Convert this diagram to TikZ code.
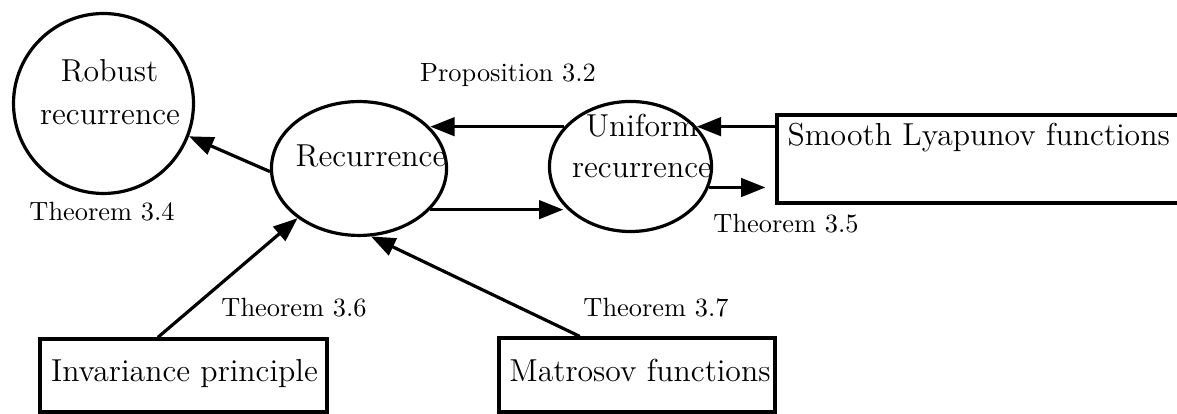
\documentclass[tikz,border=0pt]{standalone}
\usetikzlibrary{arrows.meta,shapes.geometric}
\tikzset{
  shapeline/.style={draw, line width=1.25pt, inner sep=0pt},
  bubble/.style={shapeline, ellipse},
  boxnode/.style={shapeline, rectangle},
  bigtext/.style={font=\fontsize{12.4pt}{15pt}\selectfont, inner sep=0pt, anchor=base},
  lbl/.style={font=\fontsize{10.3pt}{12pt}\selectfont, inner sep=0pt, anchor=base},
  arr/.style={line width=1.25pt, -{Triangle[length=9.5pt,width=7.2pt]}},
}
\begin{document}
\begin{tikzpicture}[x=0.390625pt, y=-0.390625pt]
\useasboundingbox (0,0) rectangle (1177,414);
% shapes
\node[shapeline, circle, minimum size=70.3pt] (Rob) at (103.5,103.5) {};
\node[bubble, minimum width=68.4pt, minimum height=52.3pt] (Rec) at (359,168.5) {};
\node[bubble, minimum width=63.3pt, minimum height=50.8pt] (U) at (630.5,166.5) {};
\node[boxnode, minimum width=161.3pt, minimum height=34.4pt] (S) at (983.5,159) {};
\node[boxnode, minimum width=112.1pt, minimum height=28.5pt] (I) at (183.5,375.5) {};
\node[boxnode, minimum width=107.8pt, minimum height=28.9pt] (M) at (637,375) {};
% texts
\node[bigtext] (RobA) at (109.5,82) {Robust};
\node[bigtext] (RobB) at (110,125) {recurrence};
\node[bigtext] (RecT) at (371,167) {Recurrence};
\node[bigtext] (UA) at (642,137) {Uniform};
\node[bigtext] (UB) at (642,178) {recurrence};
\node[bigtext, anchor=base west] (ST) at (787,146) {Smooth Lyapunov functions};
\node[bigtext] (IT) at (184.5,382) {Invariance principle};
\node[bigtext] (MT) at (640,382) {Matrosov functions};
% labels
\node[lbl] (P32) at (508,82) {Proposition 3.2};
\node[lbl] (T34) at (102,221) {Theorem 3.4};
\node[lbl] (T35) at (786,233) {Theorem 3.5};
\node[lbl] (T36) at (294,317) {Theorem 3.6};
\node[lbl] (T37) at (656,317) {Theorem 3.7};
% connectors
\draw[arr] (Rec.182) -- (Rob.-21.4);
\draw[arr] (U.149) -- (U.149 -| Rec.30);
\draw[arr] (Rec.-30) -- (Rec.-30 -| U.-150);
\draw[arr] (U.31 -| S.west) -- (U.31);
\draw[arr, shorten >=3.9pt] (U.-15) -- (U.-15 -| S.west);
\draw[arr] (I.124.9) -- (Rec.219.4);
\draw[arr] (M.146.1) -- (Rec.-80.3);
\end{tikzpicture}
\end{document}
